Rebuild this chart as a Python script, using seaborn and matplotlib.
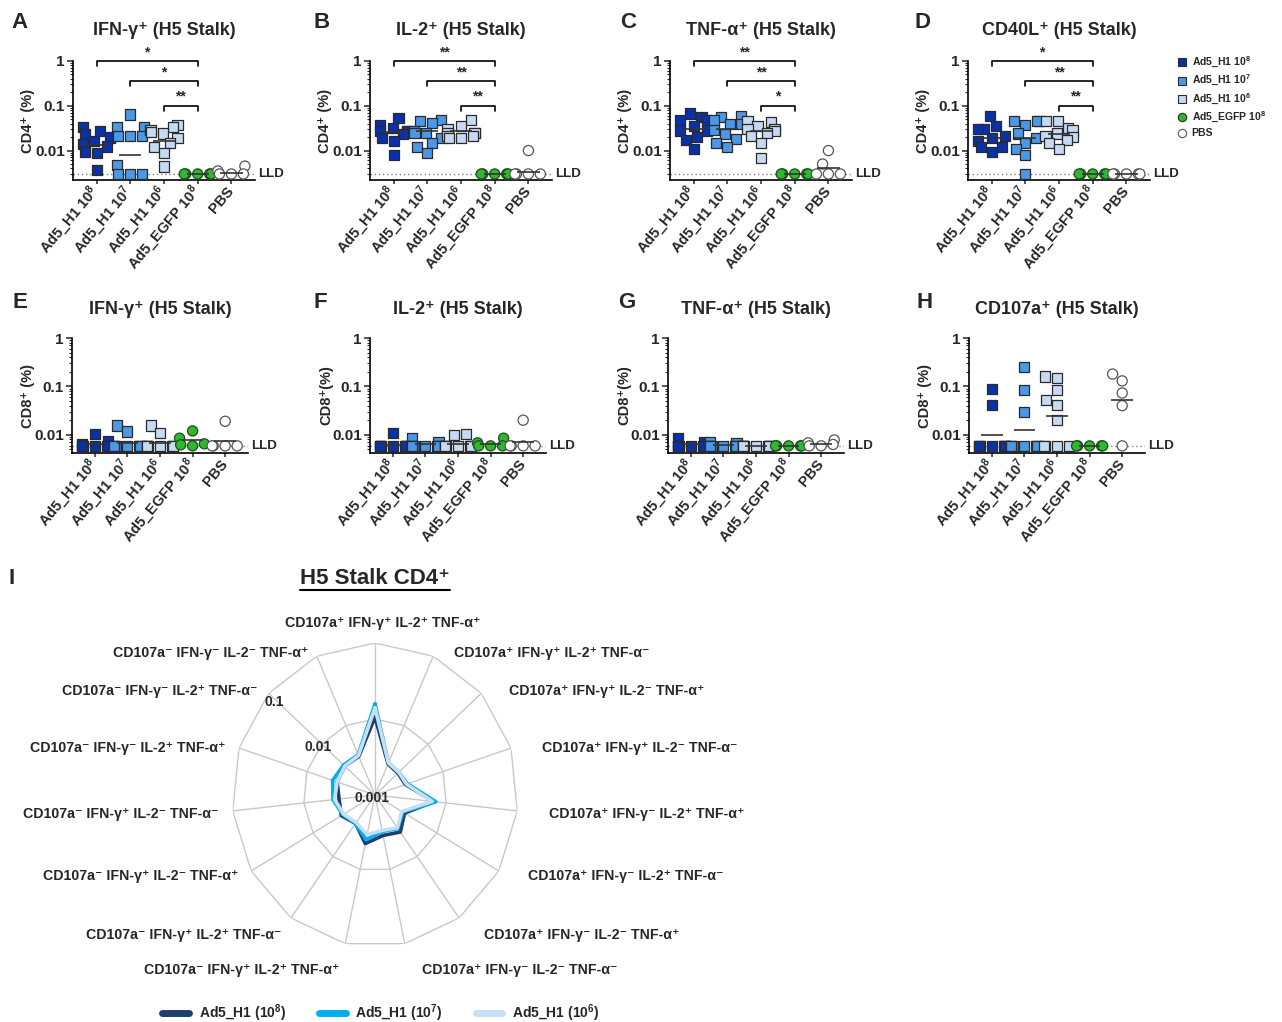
import warnings
import numpy as np
import pandas as pd
import matplotlib
matplotlib.use("Agg")
import matplotlib.pyplot as plt
import matplotlib.transforms as mtransforms
from matplotlib.lines import Line2D
import seaborn as sns

warnings.filterwarnings("ignore")

# ---------------- data ----------------
groups = ["Ad5_H1 10$^{8}$", "Ad5_H1 10$^{7}$", "Ad5_H1 10$^{6}$", "Ad5_EGFP 10$^{8}$", "PBS"]
group_colors = ["#0a32a8", "#4a98e6", "#c6daf3", "#2db82d", "#ffffff"]

# CD4+ (A-D), one list per group
ifng_cd4 = [[0.033, 0.027, 0.023, 0.0195, 0.016, 0.014, 0.0123, 0.0095, 0.009, 0.0037],
            [0.064, 0.033, 0.033, 0.021, 0.021, 0.021, 0.0048, 0.003, 0.003, 0.003],
            [0.038, 0.033, 0.029, 0.026, 0.024, 0.019, 0.015, 0.012, 0.009, 0.0044],
            [0.003, 0.003, 0.003, 0.003, 0.003],
            [0.0045, 0.0035, 0.003, 0.003, 0.003]]
ifng_cd4_mean = [0.0135, 0.008, 0.016, 0.003, 0.0032]

il2_cd4 = [[0.054, 0.038, 0.032, 0.027, 0.027, 0.027, 0.023, 0.019, 0.016, 0.0081],
           [0.048, 0.046, 0.042, 0.027, 0.025, 0.025, 0.019, 0.015, 0.012, 0.0088],
           [0.048, 0.035, 0.030, 0.025, 0.025, 0.025, 0.021, 0.021, 0.019, 0.019],
           [0.003, 0.003, 0.003, 0.003, 0.003],
           [0.010, 0.003, 0.003, 0.003, 0.003]]
il2_cd4_mean = [0.026, 0.028, 0.027, 0.003, 0.0034]

tnf_cd4 = [[0.067, 0.056, 0.047, 0.047, 0.036, 0.028, 0.028, 0.020, 0.017, 0.011],
           [0.060, 0.057, 0.047, 0.039, 0.039, 0.029, 0.023, 0.018, 0.015, 0.012],
           [0.046, 0.043, 0.036, 0.030, 0.030, 0.027, 0.025, 0.021, 0.015, 0.0069],
           [0.003, 0.003, 0.003, 0.003, 0.003],
           [0.010, 0.005, 0.003, 0.003, 0.003]]
tnf_cd4_mean = [0.031, 0.030, 0.027, 0.003, 0.0041]

cd40l_cd4 = [[0.058, 0.035, 0.030, 0.030, 0.021, 0.019, 0.016, 0.012, 0.012, 0.0092],
             [0.045, 0.045, 0.045, 0.038, 0.024, 0.019, 0.015, 0.011, 0.0078, 0.003],
             [0.045, 0.045, 0.032, 0.028, 0.024, 0.021, 0.020, 0.017, 0.015, 0.011],
             [0.003, 0.003, 0.003, 0.003, 0.003],
             [0.003, 0.003, 0.003, 0.003, 0.003]]
cd40l_cd4_mean = [0.019, 0.019, 0.024, 0.003, 0.003]

# CD8+ (E-H)
ifng_cd8 = [[0.0105, 0.0075, 0.0065, 0.0059, 0.0059, 0.0059, 0.0059, 0.0059, 0.0059, 0.0059],
            [0.0155, 0.0117, 0.0059, 0.0059, 0.0059, 0.0059, 0.0059, 0.0059, 0.0059, 0.0059],
            [0.0155, 0.011, 0.0059, 0.0059, 0.0059, 0.0059, 0.0059, 0.0059, 0.0059, 0.0059],
            [0.012, 0.0085, 0.0065, 0.0062, 0.0059],
            [0.019, 0.0059, 0.0059, 0.0059, 0.0059]]
ifng_cd8_mean = [0.0065, 0.0068, 0.0068, 0.0077, 0.0073]

il2_cd8 = [[0.011, 0.0059, 0.0059, 0.0059, 0.0059, 0.0059, 0.0059, 0.0059, 0.0059, 0.0059],
           [0.0085, 0.007, 0.0059, 0.0059, 0.0059, 0.0059, 0.0059, 0.0059, 0.0059, 0.0059],
           [0.0105, 0.0098, 0.0059, 0.0059, 0.0059, 0.0059, 0.0059, 0.0059, 0.0059, 0.0059],
           [0.0085, 0.0068, 0.0059, 0.0059, 0.0059],
           [0.020, 0.0059, 0.0059, 0.0059, 0.0059]]
il2_cd8_mean = [0.0062, 0.0063, 0.0064, 0.0066, 0.007]

tnf_cd8 = [[0.0085, 0.0072, 0.0059, 0.0059, 0.0059, 0.0059, 0.0059, 0.0059, 0.0059, 0.0059],
           [0.0072, 0.0068, 0.0059, 0.0059, 0.0059, 0.0059, 0.0059, 0.0059, 0.0059, 0.0059],
           [0.0059, 0.0059, 0.0059, 0.0059, 0.0059, 0.0059, 0.0059, 0.0059, 0.0059, 0.0059],
           [0.0059, 0.0059, 0.0059, 0.0059, 0.0059],
           [0.0078, 0.0068, 0.0063, 0.0059, 0.0059]]
tnf_cd8_mean = [0.0063, 0.0062, 0.0059, 0.0059, 0.0063]

cd107a_cd8 = [[0.088, 0.042, 0.0059, 0.0059, 0.0059, 0.0059, 0.0059, 0.0059, 0.0059, 0.0059],
              [0.25, 0.083, 0.030, 0.0059, 0.0059, 0.0059, 0.0059, 0.0059, 0.0059, 0.0059],
              [0.16, 0.15, 0.085, 0.053, 0.042, 0.020, 0.0059, 0.0059, 0.0059, 0.0059],
              [0.0059, 0.0059, 0.0059, 0.0059, 0.0059],
              [0.18, 0.13, 0.073, 0.040, 0.0059]]
cd107a_cd8_mean = [0.0097, 0.0127, 0.025, 0.0059, 0.053]

lld_cd4 = 0.003
lld_cd8 = 0.0059

# radar (I): CD4+ polyfunctional subsets, clockwise from top
radar_labels = ["CD107a⁺ IFN-γ⁺ IL-2⁺ TNF-α⁺", "CD107a⁺ IFN-γ⁺ IL-2⁺ TNF-α⁻",
                "CD107a⁺ IFN-γ⁺ IL-2⁻ TNF-α⁺", "CD107a⁺ IFN-γ⁺ IL-2⁻ TNF-α⁻",
                "CD107a⁺ IFN-γ⁻ IL-2⁺ TNF-α⁺", "CD107a⁺ IFN-γ⁻ IL-2⁺ TNF-α⁻",
                "CD107a⁺ IFN-γ⁻ IL-2⁻ TNF-α⁺", "CD107a⁺ IFN-γ⁻ IL-2⁻ TNF-α⁻",
                "CD107a⁻ IFN-γ⁺ IL-2⁺ TNF-α⁺", "CD107a⁻ IFN-γ⁺ IL-2⁺ TNF-α⁻",
                "CD107a⁻ IFN-γ⁺ IL-2⁻ TNF-α⁺", "CD107a⁻ IFN-γ⁺ IL-2⁻ TNF-α⁻",
                "CD107a⁻ IFN-γ⁻ IL-2⁺ TNF-α⁺", "CD107a⁻ IFN-γ⁻ IL-2⁺ TNF-α⁻",
                "CD107a⁻ IFN-γ⁻ IL-2⁻ TNF-α⁺"]
radar_h1_8 = [0.0106, 0.0028, 0.0027, 0.0028, 0.0068, 0.0030, 0.0040, 0.0035,
              0.0045, 0.0029, 0.0035, 0.0032, 0.0036, 0.0037, 0.0036]
radar_h1_7 = [0.0158, 0.0029, 0.0028, 0.0030, 0.0072, 0.0028, 0.0035, 0.0031,
              0.0040, 0.0029, 0.0033, 0.0039, 0.0042, 0.0039, 0.0038]
radar_h1_6 = [0.0140, 0.0029, 0.0028, 0.0029, 0.0064, 0.0027, 0.0034, 0.0030,
              0.0034, 0.0028, 0.0032, 0.0037, 0.0036, 0.0037, 0.0037]
radar_names = ["Ad5_H1 (10$^{8}$)", "Ad5_H1 (10$^{7}$)", "Ad5_H1 (10$^{6}$)"]
radar_colors = ["#1c3f6e", "#00aeef", "#c7dff2"]
radar_ticks = [0.001, 0.01, 0.1]

# ---------------- style ----------------
sns.set_style("ticks")
plt.rcParams["font.family"] = ["Liberation Sans", "DejaVu Sans"]
plt.rcParams["font.weight"] = "bold"
plt.rcParams["axes.labelweight"] = "bold"
plt.rcParams["axes.titleweight"] = "bold"
plt.rcParams["mathtext.default"] = "regular"

W, H = 1282, 1022
fig = plt.figure(figsize=(W / 100, H / 100), dpi=100)
palette = dict(zip(groups, group_colors))


def px_axes(left, top, right, bottom, **kw):
    return fig.add_axes([left / W, 1 - bottom / H, (right - left) / W, (bottom - top) / H], **kw)


def draw_panel(ax, values, centers, lld, ymin, title, ylab, stars=None, title_pad=19):
    rows = [(g, v) for g, vals in zip(groups, values) for v in vals]
    df = pd.DataFrame(rows, columns=["group", "value"])
    ax.set_yscale("log")
    for names, marker, edge in [(groups[:3], "s", "#2a2a2a"),
                                (groups[3:4], "o", "#1e4d1e"),
                                (groups[4:], "o", "#555555")]:
        sub = df[df["group"].isin(names)]
        sns.swarmplot(data=sub, x="group", y="value", hue="group", order=groups,
                      palette=palette, marker=marker, size=7.3, edgecolor=edge,
                      linewidth=0.9, legend=False, ax=ax, zorder=3)
    pos = np.arange(len(groups))
    ax.hlines(centers, pos - 0.33, pos + 0.33, colors="#333333", lw=1.2, zorder=4)
    ax.axhline(lld, ls=(0, (1, 2)), color="#808080", lw=1, zorder=1)
    trans = mtransforms.blended_transform_factory(ax.transAxes, ax.transData)
    ax.text(1.015, lld, "LLD", transform=trans, va="center", ha="left",
            fontsize=9.5, clip_on=False)

    ax.set_xlim(-0.7, 4.7)
    ax.set_ylim(ymin, 1)
    ax.set_yticks([0.01, 0.1, 1], labels=["0.01", "0.1", "1"])
    ax.yaxis.set_minor_locator(matplotlib.ticker.LogLocator(base=10, subs=np.arange(2, 10), numticks=20))
    ax.yaxis.set_minor_formatter(matplotlib.ticker.NullFormatter())
    ax.tick_params(axis="y", which="major", length=4, width=1.1, labelsize=11, pad=2)
    ax.tick_params(axis="y", which="minor", length=2, width=0.8)
    ax.set_xticks(pos)
    ax.set_xticklabels(groups, rotation=50, ha="right", va="center",
                       rotation_mode="anchor", fontsize=10.5)
    ax.tick_params(axis="x", length=3, width=1.1, pad=3)
    for s in ["top", "right"]:
        ax.spines[s].set_visible(False)
    for s in ["left", "bottom"]:
        ax.spines[s].set_linewidth(1.2)
        ax.spines[s].set_color("black")
    ax.set_xlabel("")
    ax.set_ylabel(ylab, fontsize=10.5)
    ax.yaxis.set_label_coords(-0.21, 0.5)
    ax.set_title(title, fontsize=13, pad=title_pad)

    if stars:
        heights = [1.0, 0.36, 0.1]
        for i, (h, st) in enumerate(zip(heights, stars)):
            lo = h / 1.3
            ax.plot([i, i, 3, 3], [lo, h, h, lo], color="black", lw=1.2, clip_on=False)
            ax.text((i + 3) / 2, h * 1.1, st, ha="center", va="bottom", fontsize=10, clip_on=False)


row1 = [("A", "IFN-γ⁺ (H5 Stalk)", "CD4⁺ (%)", ifng_cd4, ifng_cd4_mean, ["*", "*", "**"]),
        ("B", "IL-2⁺ (H5 Stalk)", "CD4⁺ (%)", il2_cd4, il2_cd4_mean, ["**", "**", "**"]),
        ("C", "TNF-α⁺ (H5 Stalk)", "CD4⁺ (%)", tnf_cd4, tnf_cd4_mean, ["**", "**", "*"]),
        ("D", "CD40L⁺ (H5 Stalk)", "CD4⁺ (%)", cd40l_cd4, cd40l_cd4_mean, ["*", "**", "**"])]
row2 = [("E", "IFN-γ⁺ (H5 Stalk)", "CD8⁺ (%)", ifng_cd8, ifng_cd8_mean),
        ("F", "IL-2⁺ (H5 Stalk)", "CD8⁺(%)", il2_cd8, il2_cd8_mean),
        ("G", "TNF-α⁺ (H5 Stalk)", "CD8⁺(%)", tnf_cd8, tnf_cd8_mean),
        ("H", "CD107a⁺ (H5 Stalk)", "CD8⁺ (%)", cd107a_cd8, cd107a_cd8_mean)]

row1_left = [73, 370, 670, 968]
row1_letter_x = [20, 322, 628, 923]
for (letter, title, ylab, vals, cents, stars), lx, tx in zip(row1, row1_left, row1_letter_x):
    ax = px_axes(lx, 61, lx + 182, 180)
    draw_panel(ax, vals, cents, lld_cd4, 0.0022, title, ylab, stars, title_pad=19)
    fig.text(tx / W, 1 - 22 / H, letter, fontsize=16, ha="center", va="center")

row2_left = [72, 370, 668, 969]
row2_letter_x = [20, 320, 627, 925]
for (letter, title, ylab, vals, cents), lx, tx in zip(row2, row2_left, row2_letter_x):
    ax = px_axes(lx, 338, lx + 176, 453)
    draw_panel(ax, vals, cents, lld_cd8, 0.0042, title, ylab, None, title_pad=17)
    fig.text(tx / W, 1 - 302 / H, letter, fontsize=16, ha="center", va="center")

# group legend, top right
leg_handles = []
for i, c in enumerate(group_colors):
    mk = "s" if i < 3 else "o"
    ec = "#2a2a2a" if i < 4 else "#555555"
    leg_handles.append(Line2D([], [], ls="", marker=mk, markersize=6,
                              markerfacecolor=c, markeredgecolor=ec, markeredgewidth=0.8))
fig.legend(leg_handles, groups, loc="upper left", bbox_to_anchor=(1178 / W, 1 - 55 / H),
           frameon=False, prop={"size": 7.5, "weight": "bold"}, handlelength=0.8,
           handletextpad=0.5, labelspacing=0.32, borderpad=0, borderaxespad=0)

# ---------------- radar (I) ----------------
rax = px_axes(232, 643, 518, 947, projection="polar")
rax.set_aspect("auto")
theta = np.linspace(0, 2 * np.pi, len(radar_labels), endpoint=False)
th_c = np.append(theta, theta[0])
rax.set_theta_zero_location("N")
rax.set_theta_direction(-1)
rax.set_rscale("log")
rax.set_rlim(0.001, 0.1)
for lvl in radar_ticks[1:]:
    rax.plot(th_c, np.full(th_c.shape, lvl), color="#c8c8c8", lw=1, zorder=1)
rax.set_xticks(theta)
rax.set_xticklabels([])
rax.xaxis.grid(True, color="#c8c8c8", lw=1)
rax.yaxis.grid(False)
rax.spines["polar"].set_visible(False)
rax.set_yticks(radar_ticks)
rax.set_yticklabels([])
rax.tick_params(axis="x", length=0)

for vals, c in zip([radar_h1_8, radar_h1_7, radar_h1_6], radar_colors):
    rax.plot(th_c, np.append(vals, vals[0]), color=c, lw=2.6, zorder=3)

# radial scale labels along the 13th spoke
lab_theta = theta[13]
for r, off in zip(radar_ticks, [(-3, -3), (-4, -3), (6, -9)]):
    rax.annotate(f"{r:g}", xy=(lab_theta, r), xytext=off, textcoords="offset pixels",
                 ha="center", va="center", fontsize=10, annotation_clip=False, zorder=5)

for ang, lab in zip(theta, radar_labels):
    a = np.pi / 2 - ang
    c, s = np.cos(a), np.sin(a)
    if abs(c) < 0.05:
        ha, dx, dy = "center", 8, 20
    elif c > 0:
        ha, dx = "left", 14 + 18 * abs(c)
        dy = 6 * s - 2 - 20 * max(0, -s - 0.6) / 0.4
    else:
        ha, dx = "right", -(4 + 10 * abs(c))
        dy = 6 * s - 2 - 20 * max(0, -s - 0.6) / 0.4
    rax.annotate(lab, xy=(ang, 0.1), xytext=(dx, dy), textcoords="offset pixels",
                 ha=ha, va="center", fontsize=10.2, annotation_clip=False)

rad_handles = [Line2D([], [], color=c, lw=5) for c in radar_colors]
fig.legend(rad_handles, radar_names, loc="center", bbox_to_anchor=(381 / W, 1 - 1013 / H),
           ncol=3, frameon=False, prop={"size": 10, "weight": "bold"}, handlelength=1.9,
           columnspacing=2.4, handletextpad=0.7)

fig.text(12 / W, 1 - 578 / H, "I", fontsize=16, ha="center", va="center")
ttl = fig.text(375 / W, 1 - 578 / H, "H5 Stalk CD4⁺", fontsize=16, ha="center", va="center")
fig.canvas.draw()
bb = ttl.get_window_extent()
fig.add_artist(Line2D([bb.x0 / W, bb.x1 / W], [(bb.y0 - 1) / H, (bb.y0 - 1) / H],
                      transform=fig.transFigure, color="black", lw=1.5))

fig.savefig("out.png", dpi=100)
